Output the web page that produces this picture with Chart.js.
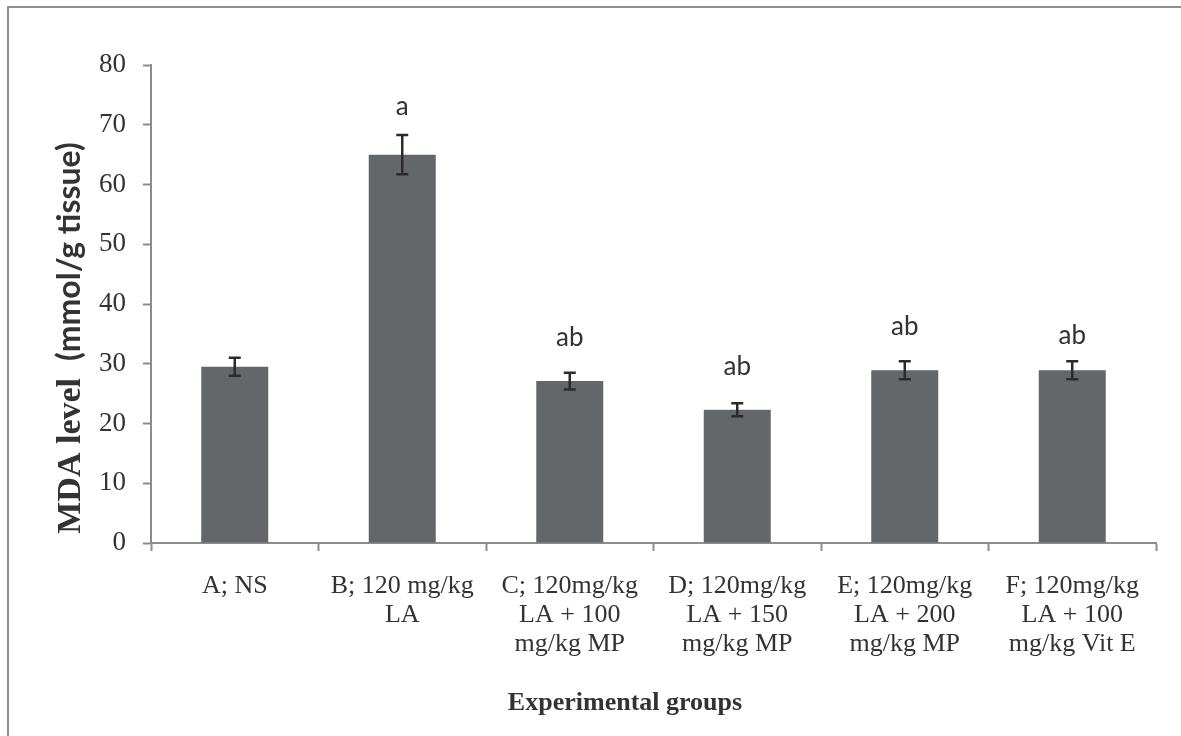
<!DOCTYPE html>
<html>
<head>
<meta charset="utf-8">
<title>MDA level by experimental group</title>
<script src="https://cdn.jsdelivr.net/npm/chart.js@4.4.0/dist/chart.umd.min.js"></script>
<style>
  html, body { margin: 0; padding: 0; background: #ffffff; }
  #wrap { width: 1181px; height: 736px; position: relative; }
</style>
</head>
<body>
<div id="wrap"><canvas id="chart" width="1181" height="736"></canvas></div>
<script>
// Group names (multi-line tick labels)
const groupLabels = [
  ["A; NS"],
  ["B; 120 mg/kg", "LA"],
  ["C; 120mg/kg", "LA + 100", "mg/kg MP"],
  ["D; 120mg/kg", "LA + 150", "mg/kg MP"],
  ["E; 120mg/kg", "LA + 200", "mg/kg MP"],
  ["F; 120mg/kg", "LA + 100", "mg/kg Vit E"]
];
// Mean MDA level (mmol/g tissue) and its error
const mdaMean = [29.5, 65.0, 27.1, 22.3, 28.9, 28.9];
const mdaError = [1.5, 3.3, 1.4, 1.1, 1.5, 1.5];
// Significance letters above each bar
const sigLetters = ["", "a", "ab", "ab", "ab", "ab"];
// Value axis range and step
const yMin = 0, yMax = 80, yStep = 10;

const AXIS_GREY = '#8c8c8c';
const TEXT_DARK = '#333333';
const SERIF = '"Liberation Serif", "Times New Roman", serif';

const decorations = {
  id: 'decorations',
  beforeDraw(chart) {
    const ctx = chart.ctx;
    ctx.save();
    ctx.fillStyle = '#ffffff';
    ctx.fillRect(0, 0, chart.width, chart.height);
    // outer frame (top and left edges)
    ctx.strokeStyle = '#8f8f8f';
    ctx.lineWidth = 2;
    ctx.beginPath();
    ctx.moveTo(8, chart.height);
    ctx.lineTo(8, 7);
    ctx.lineTo(chart.width, 7);
    ctx.stroke();
    ctx.restore();
  },
  afterDatasetsDraw(chart, args, opts) {
    const ctx = chart.ctx;
    const y = chart.scales.y;
    const meta = chart.getDatasetMeta(0);
    ctx.save();
    meta.data.forEach((bar, i) => {
      const x = bar.x;
      const top = y.getPixelForValue(mdaMean[i] + mdaError[i]);
      const bot = y.getPixelForValue(mdaMean[i] - mdaError[i]);
      ctx.strokeStyle = '#2e2a2c';
      ctx.lineWidth = 2.5;
      ctx.beginPath();
      ctx.moveTo(x, top); ctx.lineTo(x, bot);
      ctx.moveTo(x - 6, top); ctx.lineTo(x + 6, top);
      ctx.moveTo(x - 6, bot); ctx.lineTo(x + 6, bot);
      ctx.stroke();
      if (sigLetters[i]) {
        ctx.fillStyle = TEXT_DARK;
        ctx.font = '26px Lato, "Open Sans", sans-serif';
        ctx.textAlign = 'center';
        ctx.textBaseline = 'alphabetic';
        ctx.fillText(sigLetters[i], x, top - opts.letterGap[i]);
      }
    });
    ctx.restore();
  },
  afterDraw(chart) {
    const ctx = chart.ctx;
    ctx.save();
    ctx.fillStyle = TEXT_DARK;
    // x-axis title
    ctx.font = 'bold 26px ' + SERIF;
    ctx.textAlign = 'center';
    ctx.textBaseline = 'alphabetic';
    ctx.fillText('Experimental groups', 625, 710);
    // y-axis title, mixed serif / sans parts on one baseline
    const partA = 'MDA level';
    const partB = '(mmol/g tissue)';
    const fontA = 'bold 34px ' + SERIF;
    const fontB = 'bold 32px Lato, "Open Sans", sans-serif';
    ctx.font = fontA; const wA = ctx.measureText(partA + '  ').width;
    ctx.font = fontB; const wB = ctx.measureText(partB).width;
    const total = wA + wB;
    ctx.translate(80, 338);
    ctx.rotate(-Math.PI / 2);
    ctx.textAlign = 'left';
    ctx.font = fontA;
    ctx.fillText(partA, -total / 2, 0);
    ctx.font = fontB;
    ctx.fillText(partB, -total / 2 + wA, 0);
    ctx.restore();
  }
};

new Chart(document.getElementById('chart'), {
  type: 'bar',
  data: {
    labels: groupLabels,
    datasets: [{
      data: mdaMean,
      backgroundColor: '#646769',
      borderWidth: 0,
      barPercentage: 0.4,
      categoryPercentage: 1.0
    }]
  },
  options: {
    responsive: false,
    animation: false,
    devicePixelRatio: 1,
    layout: { padding: { left: 20, right: 25, top: 65, bottom: 0 } },
    plugins: {
      legend: { display: false },
      tooltip: { enabled: false },
      decorations: { letterGap: [0, 20, 27, 28, 26, 17] }
    },
    scales: {
      x: {
        offset: true,
        grid: {
          offset: true, drawOnChartArea: false, drawTicks: true,
          tickLength: 8, tickColor: AXIS_GREY, tickWidth: 2
        },
        border: { color: AXIS_GREY, width: 2 },
        ticks: {
          autoSkip: false, maxRotation: 0, minRotation: 0,
          padding: 20, color: TEXT_DARK,
          font: { family: SERIF, size: 26, lineHeight: 1.13 }
        },
        afterFit(scale) { scale.height = 193; }
      },
      y: {
        min: yMin, max: yMax,
        grid: {
          drawOnChartArea: false, drawTicks: true,
          tickLength: 8, tickColor: AXIS_GREY, tickWidth: 2
        },
        border: { color: AXIS_GREY, width: 2 },
        ticks: {
          stepSize: yStep, padding: 17, color: TEXT_DARK,
          font: { family: SERIF, size: 27 }
        },
        afterFit(scale) { scale.width = 131; }
      }
    }
  },
  plugins: [decorations]
});
</script>
</body>
</html>
